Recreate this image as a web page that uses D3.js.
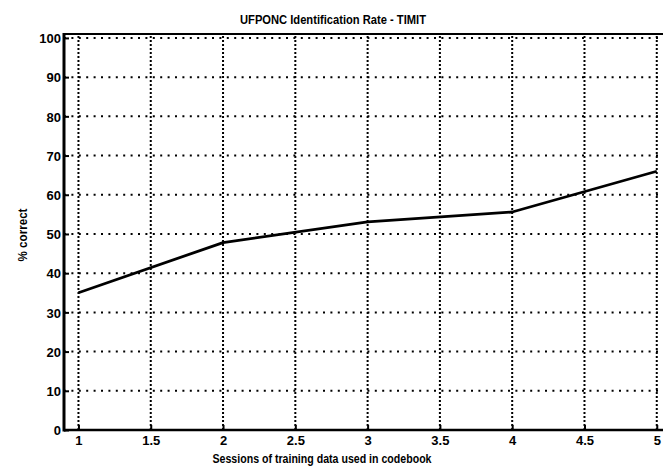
<!DOCTYPE html>
<html>
<head>
<meta charset="utf-8">
<script src="https://cdn.jsdelivr.net/npm/d3@7/dist/d3.min.js"></script>
<style>
  html, body { margin: 0; padding: 0; background: #fff; }
  svg { display: block; }
  text { font-family: "Liberation Sans", Arial, Helvetica, sans-serif; font-weight: bold; fill: #000; }
</style>
</head>
<body>
<script>
// Identification rate by number of training sessions in the codebook
const sessions = [1, 2, 3, 4, 5];
const percentCorrect = [35, 47.8, 53.1, 55.6, 66];
const xTicks = [1, 1.5, 2, 2.5, 3, 3.5, 4, 4.5, 5];
const yTicks = [0, 10, 20, 30, 40, 50, 60, 70, 80, 90, 100];
const titleText = "UFPONC Identification Rate - TIMIT";
const xLabelText = "Sessions of training data used in codebook";
const yLabelText = "% correct";

const W = 663, H = 467;
const svg = d3.select("body").append("svg").attr("width", W).attr("height", H);

const x = d3.scaleLinear().domain([0.9, 5.05]).range([64, 664]);
const y = d3.scaleLinear().domain([0, 101]).range([430, 34]);

// dotted grid
const grid = svg.append("g");
grid.selectAll("line.h").data(yTicks.filter(d => d > 0)).join("line")
  .attr("x1", x.range()[0]).attr("x2", x.range()[1])
  .attr("y1", d => y(d)).attr("y2", d => y(d))
  .attr("stroke", "#000").attr("stroke-width", 2)
  .attr("stroke-dasharray", "2,5.4");
grid.selectAll("line.v").data(xTicks).join("line")
  .attr("y1", y.range()[0]).attr("y2", y.range()[1])
  .attr("x1", d => x(d)).attr("x2", d => x(d))
  .attr("stroke", "#000").attr("stroke-width", 2)
  .attr("stroke-dasharray", "2,2");

// axes with inward ticks
const xAxis = svg.append("g").attr("transform", `translate(0,${y.range()[0]})`)
  .call(d3.axisBottom(x).tickValues(xTicks).tickSize(-5).tickPadding(6)
    .tickFormat(d3.format("")));
const yAxis = svg.append("g").attr("transform", `translate(${x.range()[0]},0)`)
  .call(d3.axisLeft(y).tickValues(yTicks).tickSize(-5).tickPadding(3));

[xAxis, yAxis].forEach(g => {
  g.select(".domain").remove();
  g.selectAll(".tick line").attr("stroke", "#000").attr("stroke-width", 2);
  g.selectAll(".tick text").style("font-size", "13px").style("font-weight", "bold")
    .attr("fill", "#000");
});
yAxis.selectAll(".tick text").attr("dy", "0.36em");

// frame
svg.append("line").attr("x1", x.range()[0]).attr("x2", x.range()[0])
  .attr("y1", y.range()[1] - 1).attr("y2", y.range()[0] + 1.5)
  .attr("stroke", "#000").attr("stroke-width", 3);
svg.append("line").attr("x1", x.range()[0]).attr("x2", x.range()[1])
  .attr("y1", y.range()[0]).attr("y2", y.range()[0])
  .attr("stroke", "#000").attr("stroke-width", 2.5);
svg.append("line").attr("x1", x.range()[0]).attr("x2", x.range()[1])
  .attr("y1", y.range()[1]).attr("y2", y.range()[1])
  .attr("stroke", "#000").attr("stroke-width", 2);

// data line
const line = d3.line().x((d, i) => x(sessions[i])).y(d => y(d));
svg.append("path").datum(percentCorrect)
  .attr("d", line).attr("fill", "none")
  .attr("stroke", "#000").attr("stroke-width", 2.8)
  .attr("stroke-linejoin", "round");

// labels
svg.append("text").attr("x", 333).attr("y", 24).attr("text-anchor", "middle")
  .style("font-size", "13px").attr("textLength", 186).attr("lengthAdjust", "spacingAndGlyphs")
  .text(titleText);
svg.append("text").attr("x", 322).attr("y", 463).attr("text-anchor", "middle")
  .style("font-size", "12.5px").attr("textLength", 219).attr("lengthAdjust", "spacingAndGlyphs")
  .text(xLabelText);
svg.append("text").attr("transform", "translate(27,235) rotate(-90)")
  .attr("text-anchor", "middle").style("font-size", "12.5px")
  .attr("textLength", 53).attr("lengthAdjust", "spacingAndGlyphs")
  .text(yLabelText);
</script>
</body>
</html>
